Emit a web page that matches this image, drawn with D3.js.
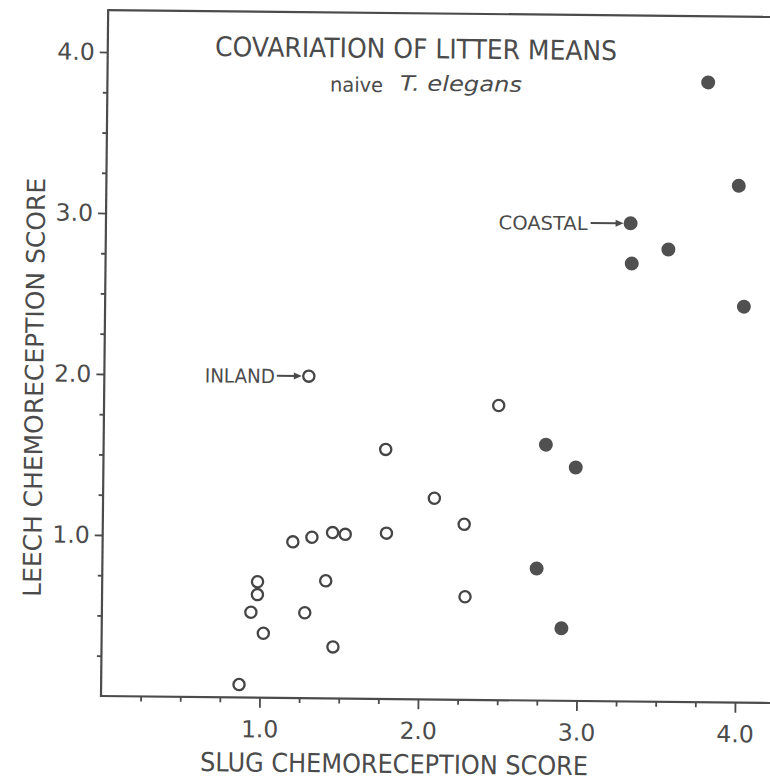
<!DOCTYPE html>
<html><head><meta charset="utf-8">
<script src="https://cdn.jsdelivr.net/npm/d3@7"></script>
<style>html,body{margin:0;padding:0;background:#fff;} svg{display:block;}</style>
</head><body>
<svg id="c" width="770" height="783"></svg>
<script>
// ---- data ----
const slugInland  = [1.29, 2.49, 1.78, 2.09, 2.28, 1.20, 1.32, 1.45, 1.53, 1.79, 0.98, 0.98, 1.41, 0.94, 1.28, 2.29, 1.02, 1.46, 0.87];
const leechInland = [2.00, 1.83, 1.55, 1.25, 1.09, 0.97, 1.00, 1.03, 1.02, 1.03, 0.72, 0.64, 0.73, 0.53, 0.53, 0.64, 0.40, 0.32, 0.08];
const slugCoastal  = [3.79, 3.99, 3.31, 3.55, 3.32, 4.03, 2.79, 2.98, 2.74, 2.90];
const leechCoastal = [3.85, 3.21, 2.97, 2.81, 2.72, 2.46, 1.59, 1.45, 0.82, 0.45];
const majorTicks = [1, 2, 3, 4];
const tickLabels = ["1.0", "2.0", "3.0", "4.0"];
const titleText = "COVARIATION OF LITTER MEANS";
const subtitlePlain = "naive";
const subtitleItalic = "T. elegans";
const xTitleText = "SLUG CHEMORECEPTION SCORE";
const yTitleText = "LEECH CHEMORECEPTION SCORE";
const calloutLabels = ["INLAND", "COASTAL"];

// ---- layout ----
const W = 770, H = 783, ox = 101, oy = 696, tilt = 0.6;
const ink = "#4b4b4b";
const FONT = "'DejaVu Sans', 'Liberation Sans', Arial, sans-serif";
const svg = d3.select("#c");
svg.append("rect").attr("width", W).attr("height", H).attr("fill", "#fff");
const g = svg.append("g").attr("transform", `translate(${ox},${oy}) rotate(${tilt})`);
function toFrame(sx, sy) {
  const a = tilt * Math.PI / 180, dx = sx - ox, dy = sy - oy;
  return [dx * Math.cos(a) + dy * Math.sin(a), -dx * Math.sin(a) + dy * Math.cos(a)];
}

const x = d3.scaleLinear().domain([0, 4]).range([0, 634]);
const y = d3.scaleLinear().domain([0, 4]).range([0, -644]);
const xMinor = d3.range(1, 18).map(i => i * 0.25).filter(v => v % 1 !== 0);
const yMinor = d3.range(1, 16).map(i => i * 0.25).filter(v => v % 1 !== 0);

// axis frame lines
const topY = -686;
g.append("line").attr("x1", -1).attr("y1", 0).attr("x2", 720).attr("y2", 0)
  .attr("stroke", ink).attr("stroke-width", 2.2);
g.append("line").attr("x1", 0).attr("y1", 1).attr("x2", 0).attr("y2", topY)
  .attr("stroke", ink).attr("stroke-width", 2.2);
g.append("line").attr("x1", -1).attr("y1", topY).attr("x2", 720).attr("y2", topY)
  .attr("stroke", ink).attr("stroke-width", 2.2);

function styleAxis(sel, fs) {
  sel.select(".domain").remove();
  sel.selectAll(".tick line").attr("stroke", ink).attr("stroke-width", 1.8);
  sel.selectAll(".tick text").attr("fill", ink).attr("font-family", FONT)
     .attr("font-size", fs);
}
// x axis
const xMaj = g.append("g").call(d3.axisBottom(x).tickValues(majorTicks).tickSize(10).tickPadding(13)
  .tickFormat((d, i) => tickLabels[i]));
styleAxis(xMaj, 23.5);
const xMin = g.append("g").call(d3.axisBottom(x).tickValues(xMinor).tickSize(5).tickFormat(""));
styleAxis(xMin, 10);
// y axis
const yMaj = g.append("g").call(d3.axisLeft(y).tickValues(majorTicks).tickSize(8).tickPadding(5)
  .tickFormat((d, i) => tickLabels[i]));
styleAxis(yMaj, 23.5);
const yMin = g.append("g").call(d3.axisLeft(y).tickValues(yMinor).tickSize(4.5).tickFormat(""));
styleAxis(yMin, 10);

// titles
function addText(sx, sy, txt, opts) {
  const p = toFrame(sx, sy);
  const t = g.append("text").attr("x", p[0]).attr("y", p[1]).text(txt)
    .attr("font-family", FONT).attr("fill", ink)
    .attr("font-size", opts.fs).attr("text-anchor", opts.anchor || "start");
  if (opts.len) t.attr("textLength", opts.len).attr("lengthAdjust", "spacingAndGlyphs");
  if (opts.italic) t.attr("font-style", "italic");
  return t;
}
addText(215, 56, titleText, {fs: 27, len: 402});
addText(330, 91.5, subtitlePlain, {fs: 20, len: 53});
addText(400, 90.5, subtitleItalic, {fs: 21, len: 122, italic: true});
addText(200, 771, xTitleText, {fs: 26, len: 388});
// y title (rotated)
{
  const p = toFrame(43, 387.5);
  g.append("text").attr("transform", `translate(${p[0]},${p[1]}) rotate(-90)`)
    .attr("text-anchor", "middle").attr("font-family", FONT).attr("fill", ink)
    .attr("font-size", 25).attr("textLength", 419).attr("lengthAdjust", "spacingAndGlyphs")
    .text(yTitleText);
}

// points
const inland = slugInland.map((s, i) => ({sx: s, ly: leechInland[i]}));
const coastal = slugCoastal.map((s, i) => ({sx: s, ly: leechCoastal[i]}));
g.append("g").selectAll("circle").data(inland).join("circle")
  .attr("cx", d => x(d.sx)).attr("cy", d => y(d.ly)).attr("r", 5.6)
  .attr("fill", "#fff").attr("stroke", "#454545").attr("stroke-width", 2.3);
g.append("g").selectAll("circle").data(coastal).join("circle")
  .attr("cx", d => x(d.sx)).attr("cy", d => y(d.ly)).attr("r", 7)
  .attr("fill", "#505050");

// callouts
function callout(pt, label, textGap, arrowStart, len, fs) {
  const px = x(pt.sx), py = y(pt.ly);
  g.append("text").attr("x", px - textGap).attr("y", py + 7.3).attr("text-anchor", "end")
    .attr("font-family", FONT).attr("fill", ink).attr("font-size", fs)
    .attr("textLength", len).attr("lengthAdjust", "spacingAndGlyphs").text(label);
  g.append("line").attr("x1", px - arrowStart).attr("y1", py).attr("x2", px - 13).attr("y2", py)
    .attr("stroke", ink).attr("stroke-width", 2);
  g.append("path").attr("d", `M${px - 15},${py - 3.5} L${px - 7},${py} L${px - 15},${py + 3.5} Z`)
    .attr("fill", ink);
}
callout(inland[0], calloutLabels[0], 34, 32, 70, 19.5);
callout(coastal[2], calloutLabels[1], 43, 40, 89, 19);
</script>
</body></html>
